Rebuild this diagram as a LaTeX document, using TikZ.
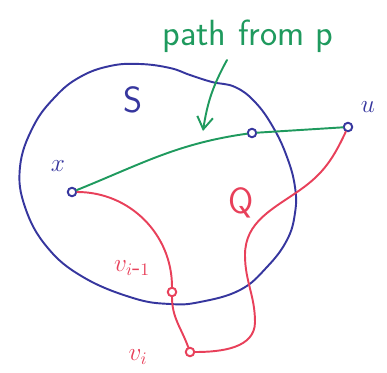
\documentclass[tikz,border=0pt]{standalone}
\usepackage{tikz}
\usetikzlibrary{arrows.meta}
\definecolor{sblue}{HTML}{36369E}
\definecolor{pgreen}{HTML}{1F9A5E}
\definecolor{qred}{HTML}{E8405A}

\begin{document}
\begin{tikzpicture}[
  x=0.02cm, y=-0.02cm,
  every node/.style={font=\sffamily},
  vert/.style={circle, draw=#1, fill=white, line width=1.1pt, minimum size=0.17cm, inner sep=0pt},
  pen/.style={line width=1.1pt, line cap=round, #1},
  lbl/.style={text=#1, font=\sffamily\Large},
]
\useasboundingbox (0,0) rectangle (387,373);

% the set S
\draw[pen=sblue] plot[smooth cycle, tension=0.7] coordinates {
  (20,167) (33,127) (55,97) (80,77) (110,66) (140,64) (170,68) (190,75)
  (212,82) (235,87) (255,102) (273,127) (287,157)
  (295,187) (295,213) (287,240) (267,267) (240,290) (200,302) (170,304)
  (133,298) (83,277) (47,247) (25,207)};
\node[text=sblue, font=\sffamily\huge] (lS) at (133,100) {S};

% vertices
\node[vert=sblue] (x) at (72,192) {};
\node[vert=sblue] (m) at (252,133) {};
\node[vert=sblue] (u) at (348,127) {};
\node[vert=qred] (vim) at (172,292) {};
\node[vert=qred] (vi) at (190,352) {};

\node[lbl=sblue] (lx) at (58,166) {$x$};
\node[lbl=sblue] (lu) at (368,107) {$u$};
\node[lbl=qred] (lvim) at (132,268) {$v_{i\mbox{-}1}$};
\node[lbl=qred] (lvi) at (138,357) {$v_i$};
\node[text=qred, font=\sffamily\huge] (lQ) at (241,203) {Q};

% path from p
\draw[pen=pgreen] (x) to[out=22, in=188] (m);
\draw[pen=pgreen] (m) -- (u);
\node[text=pgreen, font=\sffamily\huge] (lp) at (248,36) {path from p};
\coordinate (as) at (227,60);
\coordinate (ae) at (203,131);
\draw[pen=pgreen, -{Straight Barb[length=7pt, width=9pt]}] (as) to[bend right=10] (ae);

% the path Q
\draw[pen=qred] (x) to[out=0, in=90] (vim);
\draw[pen=qred] (vim) to[out=-90, in=110] (vi);
\draw[pen=qred] (vi) to[out=0, in=-90] (255,322)
  to[out=90, in=-90] (245,255)
  to[out=90, in=215] (300,190)
  to[out=35, in=-115] (u);
\end{tikzpicture}
\end{document}
